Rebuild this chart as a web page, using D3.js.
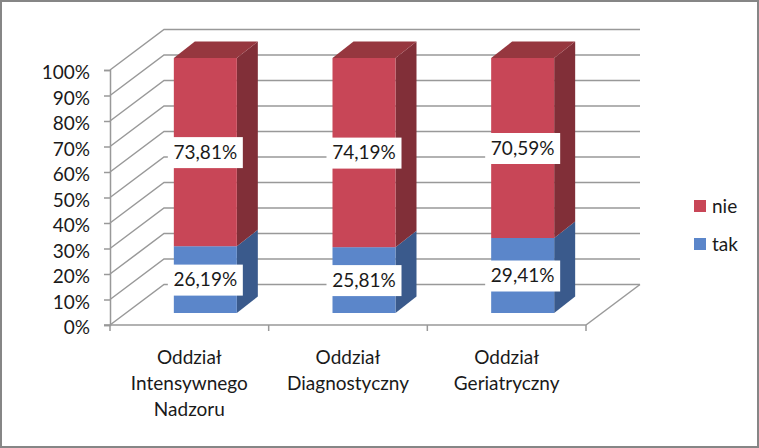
<!DOCTYPE html>
<html>
<head>
<meta charset="utf-8">
<script src="https://cdn.jsdelivr.net/npm/d3@7"></script>
<style>
body { margin: 0; background: white; }
text { font-family: Lato, sans-serif; font-size: 19px; fill: #1a1a1a; }
</style>
</head>
<body>
<div id="chart"></div>
<script>
// data
const categories = ['Intensywnego', 'Diagnostyczny', 'Geriatryczny'];
const categoryLines = [['Oddział', 'Intensywnego', 'Nadzoru'], ['Oddział', 'Diagnostyczny'], ['Oddział', 'Geriatryczny']];
const tak = [26.19, 25.81, 29.41];
const nie = [73.81, 74.19, 70.59];
const takLabels = ['26,19%', '25,81%', '29,41%'];
const nieLabels = ['73,81%', '74,19%', '70,59%'];
const yTicks = [0, 10, 20, 30, 40, 50, 60, 70, 80, 90, 100];
const seriesNames = ['tak', 'nie'];

const width = 759;
const height = 448;
const gridColor = '#999999';

// kolory
const colors = {
  tak: { front: '#5B86CA', side: '#3A5A8C' },
  nie: { front: '#C84657', side: '#812F38', top: '#96373F' }
};

// 3D offsets
const wallDx = 54, wallDy = -40.5;
const barDepthX = 21, barDepthY = -16.5;
const barDx = 16, barDy = -12, barWidth = 63;

const svg = d3.select('#chart').append('svg')
  .attr('width', width)
  .attr('height', height)
  .style('display', 'block');

svg.append('rect')
  .attr('x', 1).attr('y', 1)
  .attr('width', width - 2).attr('height', height - 2)
  .attr('fill', 'white')
  .attr('stroke', '#868686')
  .attr('stroke-width', 2);

const x = d3.scaleBand().domain(categories).range([110, 586]);
const y = d3.scaleLinear().domain([0, 100]).range([325, 70]);

// walls + gridlines
const grid = svg.append('g').attr('fill', 'none').attr('stroke', gridColor).attr('stroke-width', 1.5);
yTicks.forEach(t => {
  grid.append('path')
    .attr('d', d3.line()([[110, y(t)], [110 + wallDx, y(t) + wallDy], [586 + wallDx, y(t) + wallDy]]));
});
grid.append('path')
  .attr('d', d3.line()([[586 + wallDx, y(0) + wallDy], [586, y(0)]]));

// axes
const yAxis = d3.axisLeft(y)
  .tickValues(yTicks)
  .tickFormat(d => d + '%')
  .tickSize(6)
  .tickPadding(14);
const yG = svg.append('g').attr('transform', 'translate(110,0)').call(yAxis);
yG.selectAll('line, path').attr('stroke', gridColor).attr('stroke-width', 1.5);
yG.selectAll('text')
  .attr('dy', '0.46em')
  .attr('fill', '#1a1a1a')
  .style('font-family', 'Lato, sans-serif')
  .style('font-size', '19px');

const xAxis = svg.append('g');
xAxis.append('line')
  .attr('x1', 104).attr('x2', 586)
  .attr('y1', y(0)).attr('y2', y(0))
  .attr('stroke', gridColor).attr('stroke-width', 1.5);
[x(categories[0])].concat(categories.map(c => x(c) + x.bandwidth())).forEach(px => {
  xAxis.append('line')
    .attr('x1', px).attr('x2', px)
    .attr('y1', y(0)).attr('y2', y(0) + 6)
    .attr('stroke', gridColor).attr('stroke-width', 1.5);
});

categories.forEach((c, i) => {
  const label = svg.append('text')
    .attr('text-anchor', 'middle')
    .attr('transform', `translate(${x(c) + x.bandwidth() / 2},0)`);
  categoryLines[i].forEach((line, j) => {
    label.append('tspan').attr('x', 0).attr('y', 364 + j * 26).text(line);
  });
});

// stacked bars
const rows = categories.map((c, i) => ({ category: c, tak: tak[i], nie: nie[i] }));
const stacked = d3.stack().keys(seriesNames)(rows);

stacked.forEach(series => {
  const col = colors[series.key];
  const g = svg.append('g');
  series.forEach(d => {
    const left = x(d.data.category) + x.bandwidth() / 2 + barDx - barWidth / 2;
    const right = left + barWidth;
    const top = y(d[1]) + barDy;
    const bottom = y(d[0]) + barDy;
    g.append('path')
      .attr('fill', col.side)
      .attr('d', d3.line()([[right, top], [right + barDepthX, top + barDepthY], [right + barDepthX, bottom + barDepthY], [right, bottom]]) + 'Z');
    g.append('rect')
      .attr('x', left).attr('y', top)
      .attr('width', barWidth).attr('height', bottom - top)
      .attr('fill', col.front);
    if (col.top) {
      g.append('path')
        .attr('fill', col.top)
        .attr('d', d3.line()([[left, top], [left + barDepthX, top + barDepthY], [right + barDepthX, top + barDepthY], [right, top]]) + 'Z');
    }
  });
});

// data labels
stacked.forEach(series => {
  const labels = series.key === 'tak' ? takLabels : nieLabels;
  series.forEach((d, i) => {
    const cx = x(d.data.category) + x.bandwidth() / 2 + barDx;
    const cy = y((d[0] + d[1]) / 2) + barDy;
    svg.append('rect')
      .attr('x', cx - 37.5).attr('y', cy - 15)
      .attr('width', 75).attr('height', 31)
      .attr('fill', 'white');
    svg.append('text')
      .attr('x', cx).attr('y', cy)
      .attr('dy', '0.35em')
      .attr('text-anchor', 'middle')
      .text(labels[i]);
  });
});

// legenda
const legendY = d3.scalePoint().domain(['nie', 'tak']).range([206, 244]);
['nie', 'tak'].forEach(k => {
  svg.append('rect')
    .attr('x', 694).attr('y', legendY(k) - 6)
    .attr('width', 12).attr('height', 12)
    .attr('fill', colors[k].front);
  svg.append('text')
    .attr('x', 712).attr('y', legendY(k))
    .attr('dy', '0.35em')
    .text(k);
});
</script>
</body>
</html>
